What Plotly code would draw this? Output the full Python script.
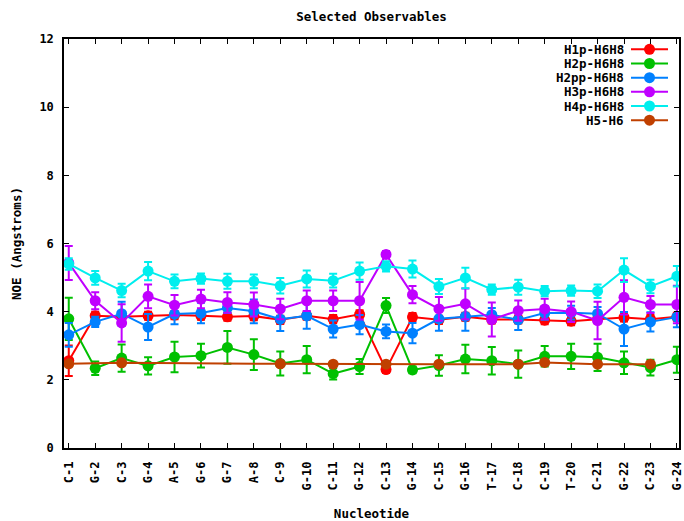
import plotly.graph_objects as go

categories = ["C-1", "G-2", "C-3", "G-4", "A-5", "G-6", "G-7", "A-8", "C-9", "G-10",
              "C-11", "G-12", "C-13", "G-14", "C-15", "G-16", "T-17", "C-18", "C-19",
              "T-20", "C-21", "G-22", "C-23", "G-24"]

h1p = [2.56, 3.88, 3.85, 3.88, 3.90, 3.88, 3.85, 3.87, 3.76, 3.88, 3.78, 3.92, 2.30, 3.84,
       3.76, 3.85, 3.77, 3.77, 3.75, 3.72, 3.78, 3.83, 3.78, 3.85]
h1p_err = [0.45, 0.12, 0.12, 0.12, 0.12, 0.12, 0.12, 0.12, 0.12, 0.12, 0.12, 0.12, 0.1, 0.12,
           0.12, 0.12, 0.12, 0.12, 0.12, 0.12, 0.12, 0.12, 0.12, 0.12]

h2p = [3.79, 2.34, 2.64, 2.41, 2.67, 2.71, 2.95, 2.74, 2.48, 2.59, 2.18, 2.39, 4.18, 2.29,
       2.42, 2.61, 2.56, 2.46, 2.69, 2.69, 2.66, 2.50, 2.36, 2.59]
h2p_err = [0.62, 0.2, 0.4, 0.25, 0.45, 0.35, 0.48, 0.45, 0.35, 0.4, 0.17, 0.22, 0.22, 0.1,
           0.3, 0.42, 0.4, 0.4, 0.3, 0.37, 0.4, 0.33, 0.23, 0.38]

h2pp = [3.32, 3.70, 3.94, 3.55, 3.93, 3.96, 4.11, 4.01, 3.78, 3.88, 3.49, 3.62, 3.42, 3.37,
        3.79, 3.86, 3.91, 3.76, 3.96, 3.97, 3.94, 3.49, 3.70, 3.84]
h2pp_err = [0.35, 0.15, 0.35, 0.38, 0.3, 0.3, 0.15, 0.35, 0.35, 0.38, 0.25, 0.28, 0.2, 0.3,
            0.35, 0.42, 0.2, 0.3, 0.2, 0.2, 0.2, 0.5, 0.28, 0.3]

h3p = [5.43, 4.32, 3.67, 4.45, 4.19, 4.37, 4.27, 4.21, 4.08, 4.32, 4.32, 4.32, 5.68, 4.50,
       4.08, 4.23, 3.77, 4.03, 4.08, 4.00, 3.74, 4.42, 4.21, 4.21]
h3p_err = [0.5, 0.25, 0.55, 0.35, 0.3, 0.27, 0.3, 0.35, 0.3, 0.3, 0.3, 0.55, 0.1, 0.25,
           0.35, 0.45, 0.5, 0.3, 0.3, 0.3, 0.55, 0.5, 0.25, 0.55]

h4p = [5.40, 4.99, 4.62, 5.19, 4.89, 4.97, 4.89, 4.89, 4.76, 4.96, 4.91, 5.19, 5.33, 5.25,
       4.74, 4.99, 4.65, 4.72, 4.60, 4.62, 4.60, 5.22, 4.74, 5.04]
h4p_err = [0.17, 0.2, 0.2, 0.27, 0.2, 0.15, 0.22, 0.2, 0.23, 0.25, 0.2, 0.25, 0.15, 0.25,
           0.22, 0.3, 0.15, 0.22, 0.15, 0.15, 0.2, 0.35, 0.2, 0.3]

h5 = [2.47, None, 2.50, None, None, None, None, None, 2.47, None, 2.46, None, 2.46, None,
      2.46, None, None, 2.46, 2.51, None, 2.46, None, 2.46, None]
h5_err = [0.05, None, 0.05, None, None, None, None, None, 0.05, None, 0.05, None, 0.05, None,
          0.05, None, None, 0.05, 0.05, None, 0.05, None, 0.05, None]

series_names = ["H1p-H6H8", "H2p-H6H8", "H2pp-H6H8", "H3p-H6H8", "H4p-H6H8", "H5-H6"]
series_values = [h1p, h2p, h2pp, h3p, h4p, h5]
series_errors = [h1p_err, h2p_err, h2pp_err, h3p_err, h4p_err, h5_err]
colors = ["#ff0000", "#00c000", "#0080ff", "#c000ff", "#00eeee", "#c04000"]

FONT = "DejaVu Sans Mono"
W, H = 684, 521
ML, MR, MT, MB = 64, 5, 39, 73

fig = go.Figure()
x_idx = list(range(len(categories)))
for name, vals, errs, col in zip(series_names, series_values, series_errors, colors):
    fig.add_trace(go.Scatter(
        x=x_idx, y=vals, name=name, mode="lines+markers",
        connectgaps=True,
        line=dict(color=col, width=2),
        marker=dict(color=col, size=11),
        error_y=dict(type="data", array=errs, visible=True, color=col, thickness=2, width=4),
        showlegend=False,
    ))

# manual gnuplot-style key (text left, sample right); positions in page pixels
pw = W - ML - MR
ph = H - MT - MB
def px(xp):
    return (xp - ML) / pw
def py(yp):
    return 1 - (yp - MT) / ph

annotations = []
shapes = []
row_y = [49.3, 63.5, 77.7, 91.8, 106.0, 120.2]
for name, col, yy in zip(series_names, colors, row_y):
    annotations.append(dict(
        x=px(626), y=py(yy), xref="paper", yref="paper", text=name, showarrow=False,
        xanchor="right", yanchor="middle",
        font=dict(family=FONT, size=12.5, color="black", weight="bold")))
    shapes.append(dict(type="line", xref="paper", yref="paper",
                       x0=px(631), x1=px(668), y0=py(yy), y1=py(yy),
                       line=dict(color=col, width=2)))
    shapes.append(dict(type="circle", xref="paper", yref="paper",
                       xsizemode="pixel", ysizemode="pixel",
                       xanchor=px(649.5), yanchor=py(yy),
                       x0=-5.5, x1=5.5, y0=-5.5, y1=5.5,
                       fillcolor=col, line=dict(color=col, width=0)))

fig.update_layout(
    width=W, height=H,
    margin=dict(l=ML, r=MR, t=MT, b=MB, pad=0, autoexpand=False),
    paper_bgcolor="white", plot_bgcolor="white",
    font=dict(family=FONT, size=12, color="black", weight="bold"),
    title=dict(text="Selected Observables", x=0.5, xref="paper", xanchor="center",
               y=1 - 17 / H, yref="container", yanchor="middle",
               font=dict(family=FONT, size=12.5, color="black", weight="bold")),
    annotations=annotations,
    shapes=shapes,
    showlegend=False,
)
fig.update_xaxes(
    range=[-0.18, 23.08], tickmode="array", tickvals=x_idx, ticktext=categories,
    tickangle=-90, ticks="inside", ticklen=5, tickwidth=1, tickcolor="black",
    showline=True, linecolor="black", linewidth=1.5, mirror="ticks",
    showgrid=False, zeroline=False, automargin=False, ticklabelstandoff=7,
    title=dict(text="Nucleotide", standoff=26, font=dict(family=FONT, size=12.5, weight="bold")),
)
fig.update_yaxes(
    range=[0, 12], tickmode="array", tickvals=[0, 2, 4, 6, 8, 10, 12],
    ticks="inside", ticklen=5, tickwidth=1, tickcolor="black",
    showline=True, linecolor="black", linewidth=1.5, mirror="ticks",
    showgrid=False, zeroline=False, automargin=False, ticklabelstandoff=6,
    title=dict(text="NOE (Angstroms)", standoff=15, font=dict(family=FONT, size=12.5, weight="bold")),
)

fig.write_html(
    "out.html",
    config={"displayModeBar": False},
    post_script="document.body.style.margin='0';document.body.style.overflow='hidden';",
)
